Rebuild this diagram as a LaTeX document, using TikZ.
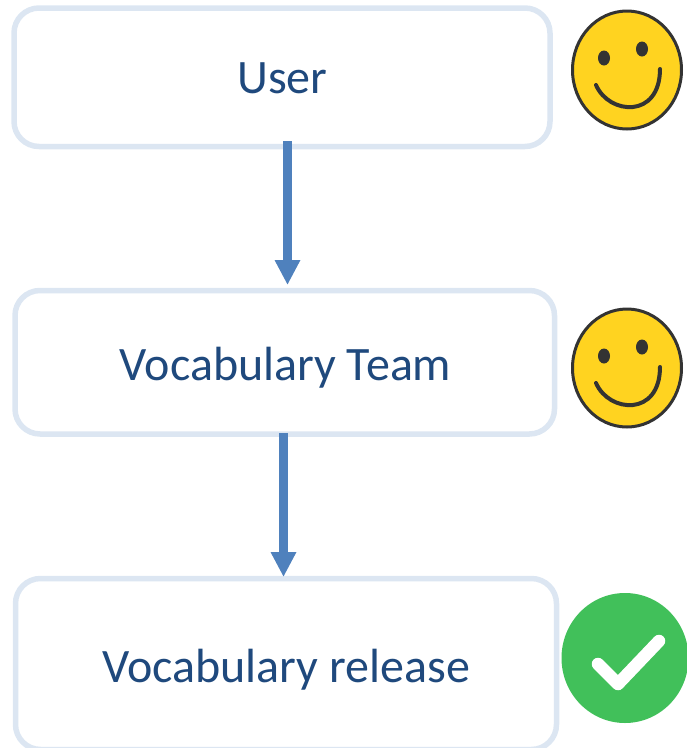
\documentclass[tikz,border=0pt]{standalone}
\usepackage{fontspec}
\setmainfont{Carlito}
\usetikzlibrary{arrows.meta}
\definecolor{boxline}{HTML}{DCE6F2}
\definecolor{boxtext}{HTML}{1F497D}
\definecolor{arrowblue}{HTML}{4F81BD}
\definecolor{smileface}{HTML}{FFD320}
\definecolor{smileline}{HTML}{333333}
\definecolor{okgreen}{HTML}{41C05A}
\tikzset{
  flowbox/.style={draw=boxline,line width=5.5pt,fill=white,rounded corners=25pt,rectangle,inner sep=0pt,outer sep=0pt},
  boxlabel/.style={text=boxtext,font=\fontsize{48}{52}\selectfont,inner sep=0pt,anchor=base},
  flowarrow/.style={draw=arrowblue,line width=8.3pt,-{Triangle[width=24pt,length=25pt]}},
  pics/smiley/.style={code={
    \fill[smileface,draw=smileline,line width=3pt] (0,0) ellipse [x radius=54.5pt,y radius=59pt];
    \fill[smileline] (-23,-12) ellipse [x radius=6pt,y radius=7.5pt];
    \fill[smileline] (15,-21) ellipse [x radius=6pt,y radius=7.5pt];
    \draw[smileline,line width=4pt,line cap=round] (-31,15) .. controls (-18,45) and (33,49) .. (33,-1);
  }}
}
\begin{document}
\begin{tikzpicture}[x=1pt,y=-1pt]
\useasboundingbox (0,0) rectangle (687,748);
\node[flowbox,minimum width=536pt,minimum height=138.5pt] (userbox) at (282,77.25) {};
\node[flowbox,minimum width=539.5pt,minimum height=143.5pt] (teambox) at (284.75,362.25) {};
\node[flowbox,minimum width=541pt,minimum height=171pt] (relbox) at (286,664) {};
\node[boxlabel] (user) at (282.5,93) {User};
\node[boxlabel] (team) at (285.5,380) {Vocabulary Team};
\node[boxlabel] (rel) at (286,682) {Vocabulary release};
\draw[flowarrow] ([xshift=5.5pt,yshift=5.5pt]userbox.south) -- ([xshift=2.75pt,yshift=5.5pt]teambox.north);
\draw[flowarrow] ([xshift=-1.25pt,yshift=1pt]teambox.south) -- ([xshift=-2.5pt,yshift=1.5pt]relbox.north);
\pic at (627,70) {smiley};
\pic at (627,368) {smiley};
\fill[okgreen] (625,658) ellipse [x radius=63.5pt,y radius=65pt];
\draw[white,line width=12.5pt,line cap=round,line join=round] (598,664) -- (618,684) -- (659,641);
\end{tikzpicture}
\end{document}
